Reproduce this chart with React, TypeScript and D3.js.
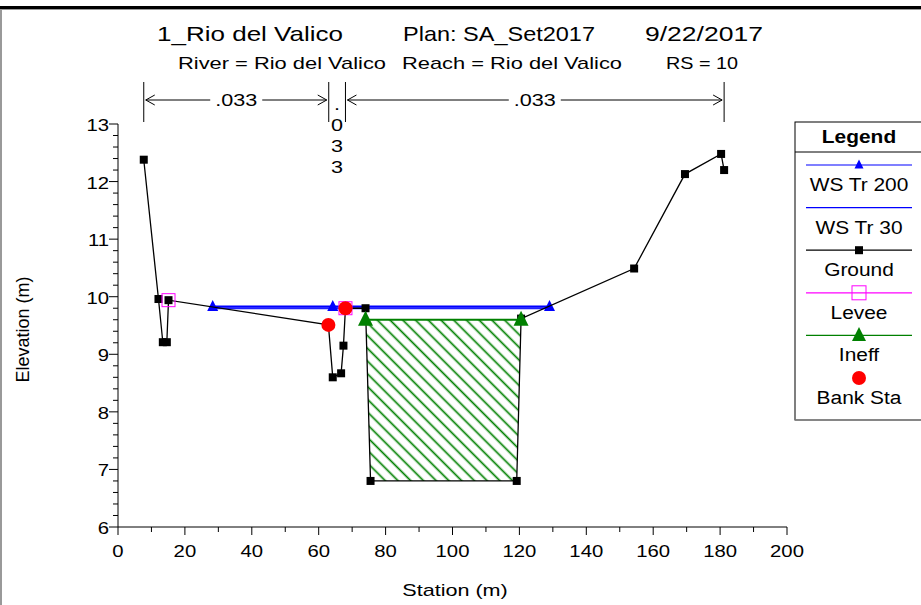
import React from "react";
import * as d3 from "d3";

const groundSta = [7.7, 12.1, 13.4, 14.6, 15.1, 62.9, 64.2, 66.7, 67.4, 68.0, 74.0, 75.5, 119.2, 120.5, 154.3, 169.5, 180.3, 181.2];
const groundElev = [12.38, 9.96, 9.21, 9.21, 9.94, 9.51, 8.6, 8.67, 9.15, 9.8, 9.8, 6.8, 6.8, 9.62, 10.49, 12.13, 12.48, 12.2];
const ws200Sta = [28.3, 64.2, 129.0];
const ws200Elev = [9.83, 9.83, 9.83];
const ws30Sta = [28.6, 128.6];
const ws30Elev = [9.8, 9.8];
const leveeSta = [15.1, 68.0];
const leveeElev = [9.94, 9.8];
const bankSta = [62.9, 68.0];
const bankElev = [9.51, 9.8];
const ineffSta = [74.0, 120.5];
const ineffElev = [9.6, 9.6];
const ineffAreaSta = [74.0, 75.5, 119.2, 120.5];
const ineffAreaElev = [9.6, 6.8, 6.8, 9.6];
const nBounds = [7.7, 63.0, 68.0, 181.2];
const nValues = [".033", ".033", ".033"];
const xTicks = [0, 20, 40, 60, 80, 100, 120, 140, 160, 180, 200];
const yTicks = [6, 7, 8, 9, 10, 11, 12, 13];
const legendItems = ["WS Tr 200", "WS Tr 30", "Ground", "Levee", "Ineff", "Bank Sta"];
const titleParts = ["1_Rio del Valico", "Plan: SA_Set2017", "9/22/2017"];
const subtitleParts = ["River = Rio del Valico", "Reach = Rio del Valico", "RS = 10"];

const FONT = "'Liberation Sans', Arial, sans-serif";

type TP = { x: number; y: number; size: number; anchor?: string; sx?: number; weight?: string; children: React.ReactNode };
const T = ({ x, y, size, anchor = "start", sx = 1.27, weight, children }: TP) => (
  <text transform={`translate(${x},${y}) scale(${sx},1)`} fontSize={size} textAnchor={anchor as any} fontWeight={weight}>
    {children}
  </text>
);

export default function App() {
  const x = d3.scaleLinear().domain([0, 200]).range([118, 787]);
  const y = d3.scaleLinear().domain([6, 13]).range([527, 124]);
  const line = (s: number[], e: number[]) =>
    d3.line<number>().x((_, i) => x(s[i])).y((_, i) => y(e[i]))(s) || "";
  const minorX = d3.range(10, 200, 20);
  const minorY = d3.range(6, 13.001, 0.2).filter((v) => Math.abs(v - Math.round(v)) > 0.01);
  const tri = (cx: number, cy: number, w: number) =>
    `M${cx},${cy - w * 0.6}L${cx + w / 2},${cy + w * 0.4}L${cx - w / 2},${cy + w * 0.4}Z`;

  const arrowY = 100;
  const lgX = 795, lgY = 122, lgW = 140, lgH = 298;
  const lgCx = 859;
  const titleX = [157, 403, 645];
  const titleW = [186, 192, 118];
  const subX = [178, 402, 666];
  const subW = [208, 220, 72];

  return (
    <svg width={921} height={605} style={{ position: "absolute", left: 0, top: 0, fontFamily: FONT }}>
      <defs>
        <pattern id="hatch" patternUnits="userSpaceOnUse" width={9} height={9} patternTransform="rotate(45)">
          <line x1={0} y1={4.5} x2={9} y2={4.5} stroke="#008000" strokeWidth={1.7} />
        </pattern>
      </defs>
      <rect x={0} y={0} width={921} height={605} fill="#fff" />
      {/* frame */}
      <line x1={0} y1={7.5} x2={921} y2={7.5} stroke="#000" strokeWidth={3} />
      <line x1={0} y1={9.5} x2={921} y2={9.5} stroke="#999" strokeWidth={1} />
      <line x1={1} y1={9} x2={1} y2={605} stroke="#999" strokeWidth={2} />

      {/* titles */}
      {titleParts.map((t, i) => (
        <text key={"t" + i} x={titleX[i]} y={41} fontSize={21} textLength={titleW[i]} lengthAdjust="spacingAndGlyphs">{t}</text>
      ))}
      {subtitleParts.map((t, i) => (
        <text key={"s" + i} x={subX[i]} y={69} fontSize={17} textLength={subW[i]} lengthAdjust="spacingAndGlyphs">{t}</text>
      ))}

      {/* n-value annotation */}
      {nBounds.map((b, i) => (
        <line key={"nb" + i} x1={x(b)} y1={82} x2={x(b)} y2={122} stroke="#000" strokeWidth={1} />
      ))}
      {[0, 2].map((i) => {
        const x1 = x(nBounds[i]) + 2;
        const x2 = x(nBounds[i + 1]) - 2;
        const cx = (x1 + x2) / 2;
        return (
          <g key={"arr" + i}>
            <line x1={x1} y1={arrowY} x2={cx - 26} y2={arrowY} stroke="#000" />
            <line x1={cx + 26} y1={arrowY} x2={x2} y2={arrowY} stroke="#000" />
            <path d={`M${x1 + 9},${arrowY - 5}L${x1},${arrowY}L${x1 + 9},${arrowY + 5}`} fill="none" stroke="#000" />
            <path d={`M${x2 - 9},${arrowY - 5}L${x2},${arrowY}L${x2 - 9},${arrowY + 5}`} fill="none" stroke="#000" />
            <T x={cx} y={arrowY + 6} size={17} anchor="middle">{nValues[i]}</T>
          </g>
        );
      })}
      {nValues[1].split("").map((c, i) => (
        <T key={"nv" + i} x={(x(nBounds[1]) + x(nBounds[2])) / 2} y={110 + i * 21} size={17} anchor="middle">{c}</T>
      ))}

      {/* axes */}
      <line x1={118} y1={y(6)} x2={x(200)} y2={y(6)} stroke="#000" />
      <line x1={118} y1={y(6)} x2={118} y2={y(13)} stroke="#000" />
      {xTicks.map((t) => (
        <g key={"xt" + t}>
          <line x1={x(t)} y1={y(6)} x2={x(t)} y2={y(6) + 8} stroke="#000" />
          <T x={x(t)} y={y(6) + 30} size={16} anchor="middle">{t}</T>
        </g>
      ))}
      {minorX.map((t) => (
        <line key={"mx" + t} x1={x(t)} y1={y(6)} x2={x(t)} y2={y(6) + 5} stroke="#000" />
      ))}
      {yTicks.map((t) => (
        <g key={"yt" + t}>
          <line x1={109} y1={y(t)} x2={118} y2={y(t)} stroke="#000" />
          <T x={109} y={y(t) + 7} size={16} anchor="end">{t}</T>
        </g>
      ))}
      {minorY.map((t, i) => (
        <line key={"my" + i} x1={113} y1={y(t)} x2={118} y2={y(t)} stroke="#000" />
      ))}
      <T x={455} y={596} size={17} anchor="middle">Station (m)</T>
      <text transform={`translate(29,${(y(6) + y(13)) / 2 + 4}) rotate(-90)`} fontSize={18} textAnchor="middle">Elevation (m)</text>

      {/* ineffective area */}
      <path d={line(ineffAreaSta, ineffAreaElev) + "Z"} fill="url(#hatch)" stroke="none" />

      {/* water surface */}
      <path d={line(ws30Sta, ws30Elev)} fill="none" stroke="#2020ff" strokeWidth={2} />
      <path d={line(ws200Sta, ws200Elev)} fill="none" stroke="#0000ff" strokeWidth={2} />
      {ws200Sta.map((s, i) => (
        <path key={"wt" + i} d={tri(x(s), y(ws200Elev[i]), 11)} fill="#0000ff" />
      ))}

      {/* ground */}
      <path d={line(groundSta, groundElev)} fill="none" stroke="#000" strokeWidth={1.3} />
      {groundSta.map((s, i) => (
        <rect key={"g" + i} x={x(s) - 4} y={y(groundElev[i]) - 4} width={8} height={8} fill="#000" />
      ))}

      {/* ineff line */}
      <path d={line(ineffSta, ineffElev)} fill="none" stroke="#008000" strokeWidth={2} />
      {ineffSta.map((s, i) => (
        <path key={"it" + i} d={tri(x(s), y(ineffElev[i]), 15)} fill="#008000" />
      ))}

      {/* levee */}
      {leveeSta.map((s, i) => (
        <rect key={"lv" + i} x={x(s) - 6.5} y={y(leveeElev[i]) - 6.5} width={13} height={13} fill="none" stroke="#ff00ff" strokeWidth={1} />
      ))}
      {/* bank stations */}
      {bankSta.map((s, i) => (
        <circle key={"bk" + i} cx={x(s)} cy={y(bankElev[i])} r={7} fill="#ff0000" />
      ))}

      {/* legend */}
      <rect x={lgX} y={lgY} width={lgW} height={lgH} fill="#fff" stroke="#000" />
      <line x1={lgX} y1={lgY + lgH} x2={921} y2={lgY + lgH} stroke="#888" strokeWidth={1.5} />
      <T x={lgCx} y={lgY + 21} size={19} sx={1.1} weight="bold" anchor="middle">Legend</T>
      <line x1={lgX} y1={152} x2={921} y2={152} stroke="#000" />
      {legendItems.map((name, i) => {
        const ly = 165 + i * 42.6;
        const colors = ["#0000ff", "#0000ff", "#000", "#ff00ff", "#008000", "none"];
        return (
          <g key={"lg" + i}>
            {i < 5 && <line x1={806} y1={ly} x2={912} y2={ly} stroke={colors[i]} strokeWidth={1.2} />}
            {i === 0 && <path d={tri(lgCx, ly, 9)} fill="#0000ff" />}
            {i === 2 && <rect x={lgCx - 4} y={ly - 4} width={8} height={8} fill="#000" />}
            {i === 3 && <rect x={lgCx - 7} y={ly - 7} width={14} height={14} fill="none" stroke="#ff00ff" />}
            {i === 4 && <path d={tri(lgCx, ly, 14)} fill="#008000" />}
            {i === 5 && <circle cx={lgCx} cy={ly} r={7} fill="#ff0000" />}
            <T x={lgCx} y={ly + 26} size={19} sx={1.1} anchor="middle">{name}</T>
          </g>
        );
      })}
    </svg>
  );
}
